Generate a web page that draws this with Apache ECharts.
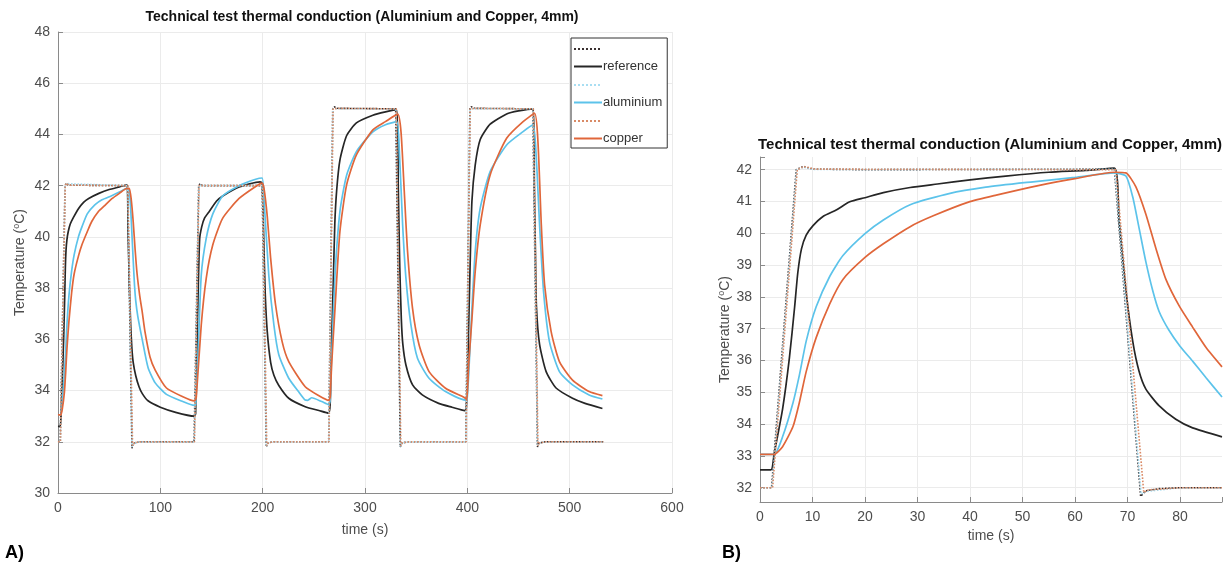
<!DOCTYPE html>
<html>
<head>
<meta charset="utf-8">
<script src="https://cdn.jsdelivr.net/npm/echarts@6/dist/echarts.min.js"></script>
<style>
  html, body { margin: 0; padding: 0; background: #fff; }
  #main { width: 1229px; height: 569px; }
</style>
</head>
<body>
<div id="main"></div>
<script>
// panel A: full test, 4 cycles  [time (s), temperature (oC)]
var setRefA = [[0,32],[2.2,32],[6.9,42],[8,42.1],[10,42.02],[68,42],[72.3,31.75],[74,31.95],[80,32],[133,32],[137.5,42],[139,42.08],[141,42],[199.5,42],[203.5,31.8],[205,31.95],[210,32],[264.5,32],[268.5,45],[270,45.08],[273,45.02],[330,45],[334.5,31.8],[336,31.95],[342,32],[398.5,32],[402.5,45],[404,45.08],[407,45.02],[464,45],[468.5,31.8],[470,31.95],[476,32],[533,32]];
var setAluA = [[0,32],[2.3,32],[7,42],[8.1,42.08],[10,42.01],[68.1,42],[72.4,31.8],[74,31.93],[80,32],[133.2,32],[137.6,42],[139,42.06],[141,42],[199.6,42],[203.6,31.82],[205,31.95],[210,32],[264.6,32],[268.6,45],[270,45.06],[273,45.01],[330.2,45],[334.6,31.82],[336,31.95],[342,32],[398.6,32],[402.6,45],[404,45.06],[407,45.01],[464.2,45],[468.6,31.82],[470,31.95],[476,32],[533,32]];
var setCopA = [[0,32],[2.4,32],[7.1,42],[8.3,42.1],[10.5,42.02],[68.3,42],[72.9,31.85],[74.5,31.95],[80,32],[133.4,32],[137.8,42],[139.3,42.07],[141.5,42],[199.9,42],[204,31.85],[205.5,31.95],[210,32],[264.8,32],[268.8,45],[270.3,45.06],[273.5,45.02],[330.5,45],[335,31.85],[336.5,31.95],[342,32],[398.8,32],[402.8,45],[404.3,45.06],[407.5,45.02],[464.5,45],[469,31.85],[470.5,31.95],[476,32],[533,32]];

var refA = [[0,32.6],[2.2,32.6],[3,33.05],[4.3,34.5],[5.6,36.1],[6.6,37.7],[7.2,38.8],[7.9,39.5],[8.8,39.9],[10,40.2],[12,40.5],[15,40.75],[20,41.1],[25,41.35],[30,41.5],[40,41.7],[50,41.85],[60,41.95],[67.5,42.03],[68.4,40.4],[69.7,38.2],[71,36.6],[72.2,35.66],[73.5,35.1],[76,34.58],[79.2,34.15],[82.4,33.88],[88,33.6],[100,33.35],[115,33.15],[133,33.0],
  [134.5,33.1],[136.5,37],[138.4,39.9],[140.5,40.4],[143.2,40.73],[148,41.0],[155,41.4],[161,41.6],[177,41.95],[197.5,42.15],[199.5,42.1],[201,40],[202.5,37.8],[204.5,36.3],[207.8,35.1],[211,34.6],[215.8,34.2],[225.5,33.7],[241.6,33.37],[255,33.22],[264.5,33.12],
  [266,33.5],[267.4,36],[269,38.2],[270.5,40.5],[272.3,41.8],[275.5,43.0],[282,43.95],[291.6,44.45],[307.7,44.75],[320,44.88],[331,44.97],[332.5,42],[334,38.8],[335.5,36.8],[337,35.8],[340,35.0],[346.5,34.22],[356,33.83],[372,33.5],[385,33.35],[397.5,33.22],
  [399,33.3],[401,36],[402.9,39.2],[404.5,41.4],[407.7,42.8],[412.6,43.8],[422.3,44.4],[438.4,44.8],[450,44.92],[464.5,45.0],[465.5,42],[466.5,39.5],[467.5,37.3],[470.6,35.8],[477,34.74],[486.7,34.1],[502.8,33.7],[515,33.5],[532,33.3]];

var aluA = [[0,33.05],[2.7,33.05],[4.3,33.6],[6.3,34.7],[7.5,35.5],[8.8,36.6],[10.7,37.7],[13.3,38.65],[15.8,39.3],[20,40.0],[23.5,40.4],[28.6,40.9],[36,41.25],[43,41.45],[52,41.6],[60,41.75],[67.5,41.9],[69.7,41.8],[71,41.14],[72.2,40.17],[73.5,39.1],[74.8,38.1],[76,37.5],[78,36.9],[82.4,35.98],[88,34.9],[95,34.3],[106,33.85],[122,33.57],[133,33.42],
  [134.5,33.45],[136.8,35.3],[140,38.5],[144.9,39.95],[151.3,40.9],[161,41.6],[177,42.0],[193.2,42.25],[199.5,42.3],[201.3,41.5],[206,38.5],[211,36.56],[215.8,35.4],[225.5,34.48],[235,33.96],[241.6,33.63],[244,33.62],[248,33.72],[257.7,33.57],[264.5,33.45],
  [266,33.6],[267.4,35.3],[270.7,38.5],[275.5,40.99],[282,42.4],[291.6,43.33],[307.7,44.1],[320,44.38],[331,44.5],[333.6,43.33],[336.8,40.47],[340,38.39],[344.9,36.56],[351.3,35.26],[362.6,34.48],[378.7,33.96],[398,33.63],
  [399.7,33.65],[401.3,34.6],[404.5,37.2],[407.7,39.43],[412.6,41.12],[422.3,42.55],[438.4,43.59],[454.5,44.11],[464.2,44.37],[467.4,43.07],[470.6,40.47],[474.5,37.86],[480.3,35.9],[490,34.74],[502.8,34.22],[519,33.83],[532,33.67]];

var copA = [[0,33.05],[2.7,33.05],[4.3,33.3],[6.3,33.95],[7.5,34.7],[8.8,35.65],[10.7,36.7],[13.3,37.8],[15.8,38.55],[20,39.25],[23.5,39.7],[28.6,40.2],[33,40.6],[39.7,41.0],[45,41.2],[53,41.5],[60,41.7],[67.5,41.9],[69.7,41.9],[71.6,41.46],[73.5,40.6],[75.4,39.5],[77.3,38.56],[79.9,37.7],[82.4,37.05],[85,36.3],[90,35.3],[95,34.8],[106,34.1],[122,33.76],[133,33.6],
  [134.5,33.65],[135.2,33.76],[140,36.56],[144.9,38.39],[151.3,39.69],[161,40.73],[177,41.5],[193.2,41.97],[199.5,42.1],[201.3,41.9],[204.5,40.8],[207.8,39.17],[212.6,37.35],[219.1,35.9],[225.5,35.13],[241.6,34.15],[255,33.8],[264.5,33.62],
  [266,33.75],[267.4,35.0],[270.7,37.2],[275.5,40.21],[282,42.02],[291.6,43.2],[307.7,44.18],[320,44.5],[332,44.79],[335.2,44.1],[338.4,41.77],[341.6,39.43],[346.5,37.2],[352.9,35.78],[362.6,34.74],[378.7,34.09],[397,33.73],
  [399.5,33.65],[401.3,35.0],[404.5,36.8],[407.7,38.65],[412.6,40.47],[422.3,42.42],[438.4,43.85],[454.5,44.5],[465.8,44.82],[469,43.72],[472.3,40.47],[475.5,38.13],[481.9,36.3],[490,35.13],[502.8,34.41],[519,33.96],[532,33.8]];

// panel B: first cycle, 0 - 88 s
var setRefB = [[0,32],[2.2,32],[6.9,42],[8.2,42.1],[10,42.02],[20,42],[67.5,42.02],[72.5,31.73],[73.5,31.9],[76,31.97],[80,32],[88,32]];
var setAluB = [[0,32],[2.3,32],[7,42],[8.3,42.08],[10,42.01],[67.6,42.01],[72.6,31.8],[73.6,31.88],[80,32],[88,32]];
var setCopB = [[0,32],[2.4,32],[7.1,42],[8.4,42.1],[10.5,42.02],[67.8,42.0],[73.1,31.85],[74,31.93],[80,32],[88,32]];
var refB = [[0,32.56],[2.1,32.56],[2.7,33.07],[4.3,34.47],[5.6,36.08],[6.6,37.69],[7.2,38.76],[7.9,39.51],[8.8,39.94],[10.1,40.24],[12,40.53],[14.6,40.74],[17.1,40.99],[20,41.12],[23.5,41.28],[28.6,41.44],[33.8,41.55],[40,41.68],[46.8,41.8],[55,41.92],[62,41.98],[67.5,42.05],[68.4,40.4],[69.7,38.2],[71,36.6],[72.2,35.66],[73.5,35.1],[76,34.58],[79.2,34.15],[82.4,33.88],[88,33.6]];
var aluB = [[0,33.05],[2.7,33.05],[4.3,33.6],[6.3,34.68],[7.5,35.54],[8.8,36.61],[10.7,37.69],[13.3,38.65],[15.8,39.3],[20,39.99],[23.5,40.42],[28.6,40.9],[36,41.25],[43,41.45],[52,41.62],[60,41.76],[67.5,41.9],[69.7,41.8],[71,41.14],[72.2,40.17],[73.5,39.1],[74.8,38.2],[76,37.55],[77.9,36.95],[80,36.45],[82.4,35.98],[85,35.45],[88,34.85]];
var copB = [[0,33.05],[2.7,33.05],[4.3,33.29],[6.3,33.93],[7.5,34.68],[8.8,35.65],[10.7,36.72],[13.3,37.79],[15.8,38.55],[20,39.24],[23.5,39.67],[28.6,40.21],[33,40.55],[39.7,40.98],[45,41.2],[53,41.5],[60,41.72],[67.5,41.92],[69.7,41.9],[71.6,41.46],[73.5,40.6],[75.4,39.53],[77.3,38.56],[79.9,37.7],[82.4,37.05],[85,36.4],[88,35.8]];

var seriesNames = ['set ref', 'reference', 'set alu', 'aluminium', 'set cop', 'copper'];
var titleText = 'Technical test thermal conduction (Aluminium and Copper, 4mm)';

var chart = echarts.init(document.getElementById('main'));

var FONT = '"Liberation Sans", Arial, sans-serif';
var axisGray = '#8a8a8a';
var labelGray = '#4d4d4d';

function mkAxis(gi, opt) {
  return Object.assign({
    gridIndex: gi,
    type: 'value',
    axisLine: { show: true, lineStyle: { color: axisGray, width: 1 } },
    axisTick: { show: true, inside: true, length: 5, lineStyle: { color: axisGray } },
    splitLine: { show: true, lineStyle: { color: '#ebebeb', width: 1 } },
    axisLabel: { color: labelGray, fontFamily: FONT, fontSize: 14 },
    nameLocation: 'middle',
    nameTextStyle: { color: labelGray, fontFamily: FONT, fontSize: 14,
      rich: { sup: { fontSize: 9, verticalAlign: 'top', color: labelGray, fontFamily: FONT, padding: [0, 0, 8, 0] } } }
  }, opt);
}

function setLine(name, data, idx, color) {
  return {
    name: name, type: 'line', data: data, xAxisIndex: idx, yAxisIndex: idx,
    showSymbol: false, symbol: 'none', silent: true,
    lineStyle: { color: color, width: 1.6, type: 'dotted' }, itemStyle: { color: color }
  };
}
function measLine(name, data, idx, color) {
  return {
    name: name, type: 'line', data: data, xAxisIndex: idx, yAxisIndex: idx,
    showSymbol: false, symbol: 'none', silent: true, smooth: 0.2,
    lineStyle: { color: color, width: 1.7 }, itemStyle: { color: color }
  };
}

var cBlackDot = '#3a3030', cBlack = '#262626';
var cBlueDot = '#a9def2', cBlue = '#5cc3ea';
var cOrangeDot = '#d98a66', cOrange = '#e0663a';

var option = {
  backgroundColor: '#fff',
  animation: false,
  grid: [
    { left: 52, top: 32, width: 620, height: 461 },
    { left: 760, top: 157, width: 462, height: 345 }
  ],
  xAxis: [
    mkAxis(0, { min: 0, max: 600, interval: 100, name: 'time (s)', nameGap: 30 }),
    mkAxis(1, { min: 0, max: 88, interval: 10, name: 'time (s)', nameGap: 25,
      splitLine: { show: true, showMaxLine: false, lineStyle: { color: '#ebebeb', width: 1 } },
      axisLabel: { color: labelGray, fontFamily: FONT, fontSize: 14,
        formatter: function (v) { return v % 10 === 0 ? v : ''; } } })
  ],
  yAxis: [
    mkAxis(0, { min: 30, max: 48, interval: 2, name: 'Temperature ({sup|o}C)', nameGap: 29 }),
    mkAxis(1, { min: 31.55, max: 42.4, minInterval: 1, maxInterval: 1, splitNumber: 11,
      name: 'Temperature ({sup|o}C)', nameGap: 24,
      splitLine: { show: true, showMaxLine: false, lineStyle: { color: '#ebebeb', width: 1 } },
      axisLabel: { color: labelGray, fontFamily: FONT, fontSize: 14,
        formatter: function (v) { return Math.abs(v - Math.round(v)) < 1e-6 ? v : ''; } } })
  ],
  legend: {
    data: seriesNames,
    orient: 'vertical',
    left: 571, top: 38,
    itemWidth: 28, itemHeight: 10, itemGap: 7,
    padding: [6, 5, 3, 2],
    borderColor: '#333', borderWidth: 1,
    backgroundColor: '#fff',
    selectedMode: false,
    itemStyle: { opacity: 0 },
    textStyle: { color: '#333', fontFamily: FONT, fontSize: 13, padding: [0, 0, 0, -4] },
    formatter: function (name) { return name.indexOf('set') === 0 ? '' : name; }
  },
  graphic: [
    { type: 'text', x: 362, y: 10, style: { text: titleText, textAlign: 'center', fill: '#111', font: 'bold 14px ' + FONT } },
    { type: 'text', x: 990, y: 137, style: { text: titleText, textAlign: 'center', fill: '#111', font: 'bold 15px ' + FONT } },
    { type: 'text', x: 5, y: 544, style: { text: 'A)', fill: '#000', font: 'bold 18px ' + FONT } },
    { type: 'text', x: 722, y: 544, style: { text: 'B)', fill: '#000', font: 'bold 18px ' + FONT } }
  ],
  series: [
    setLine(seriesNames[0], setRefA, 0, cBlackDot),
    measLine(seriesNames[1], refA, 0, cBlack),
    setLine(seriesNames[2], setAluA, 0, cBlueDot),
    measLine(seriesNames[3], aluA, 0, cBlue),
    setLine(seriesNames[4], setCopA, 0, cOrangeDot),
    measLine(seriesNames[5], copA, 0, cOrange),
    setLine(seriesNames[0], setRefB, 1, cBlackDot),
    measLine(seriesNames[1], refB, 1, cBlack),
    setLine(seriesNames[2], setAluB, 1, cBlueDot),
    measLine(seriesNames[3], aluB, 1, cBlue),
    setLine(seriesNames[4], setCopB, 1, cOrangeDot),
    measLine(seriesNames[5], copB, 1, cOrange)
  ]
};

chart.setOption(option);
</script>
</body>
</html>
